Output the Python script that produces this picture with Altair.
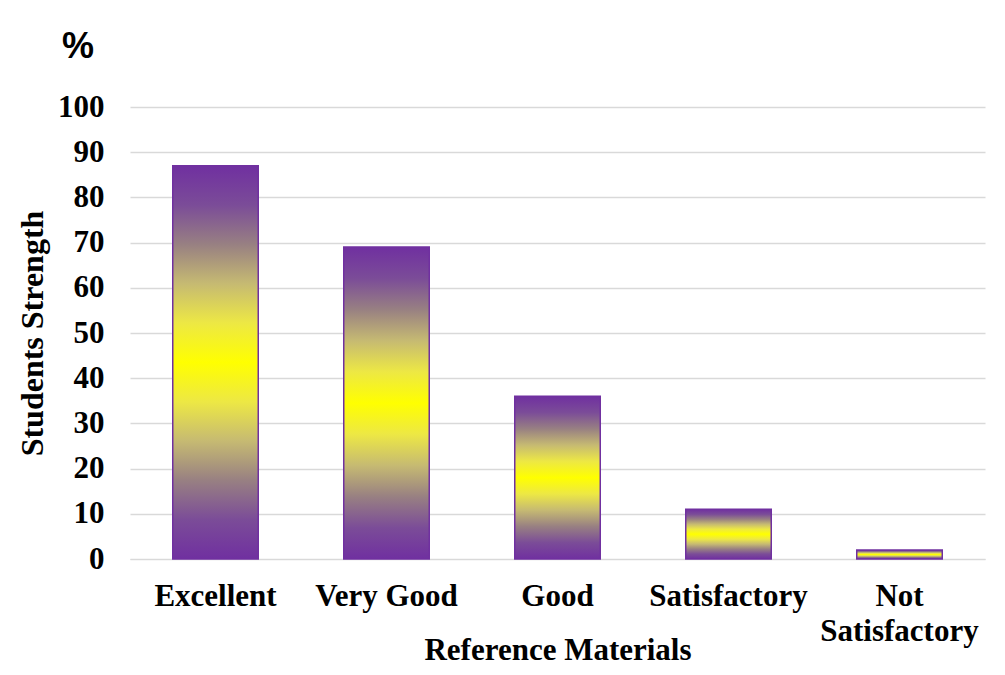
import altair as alt
import pandas as pd

categories = ["Excellent", "Very Good", "Good", "Satisfactory", "Not Satisfactory"]
values = [87, 69, 36, 11, 2]

df = pd.DataFrame({"category": categories, "value": values})

purple = "#7030A0"
yellow = "#FFFF00"

stop_offsets = [0, 0.1, 0.2, 0.3, 0.4, 0.5, 0.6, 0.7, 0.8, 0.9, 1]
stop_colors = [purple, "#7B4C98", "#988082", "#C6BA72", "#EDE844", yellow,
               "#EDE844", "#C6BA72", "#988082", "#7B4C98", purple]

grad = alt.Gradient(
    gradient="linear",
    stops=[alt.GradientStop(color=c, offset=o) for c, o in zip(stop_colors, stop_offsets)],
    x1=0, x2=0, y1=0, y2=1,
)

FONT = "Liberation Serif"

chart = (
    alt.Chart(df)
    .mark_bar(color=grad, stroke=purple, strokeWidth=1.5)
    .encode(
        x=alt.X(
            "category:N",
            sort=categories,
            scale=alt.Scale(paddingInner=0.5, paddingOuter=0.25),
            axis=alt.Axis(
                title="Reference Materials",
                labelAngle=0,
                ticks=False,
                domainColor="#d9d9d9",
                labelPadding=22,
                labelLineHeight=35,
                labelExpr="datum.label == 'Not Satisfactory' ? ['Not', 'Satisfactory'] : datum.label",
                titleBaseline="alphabetic",
                titleY=100,
            ),
        ),
        y=alt.Y(
            "value:Q",
            scale=alt.Scale(domain=[0, 100]),
            axis=alt.Axis(
                title="Students Strength",
                values=list(range(0, 101, 10)),
                ticks=False,
                domain=False,
                labelPadding=26,
                titlePadding=8,
                titleFontSize=32,
                gridColor="#d9d9d9",
                gridWidth=1.3,
            ),
        ),
    )
    .properties(
        width=855,
        height=452,
        autosize=alt.AutoSizeParams(type="none"),
        padding={"left": 122, "top": 99, "right": 12, "bottom": 108},
        title=alt.TitleParams(
            "%",
            anchor="start",
            frame="group",
            dx=-68,
            dy=48,
            offset=45,
            baseline="alphabetic",
            font="Liberation Sans",
            fontSize=36,
            fontWeight="bold",
            color="black",
        ),
    )
    .configure_view(stroke=None)
    .configure_axis(
        labelFont=FONT,
        labelFontSize=31,
        labelFontWeight="bold",
        labelColor="black",
        titleFont=FONT,
        titleFontSize=31,
        titleFontWeight="bold",
        titleColor="black",
        labelLimit=400,
    )
)

chart.save("out.html", embed_options={"renderer": "svg", "actions": False})
